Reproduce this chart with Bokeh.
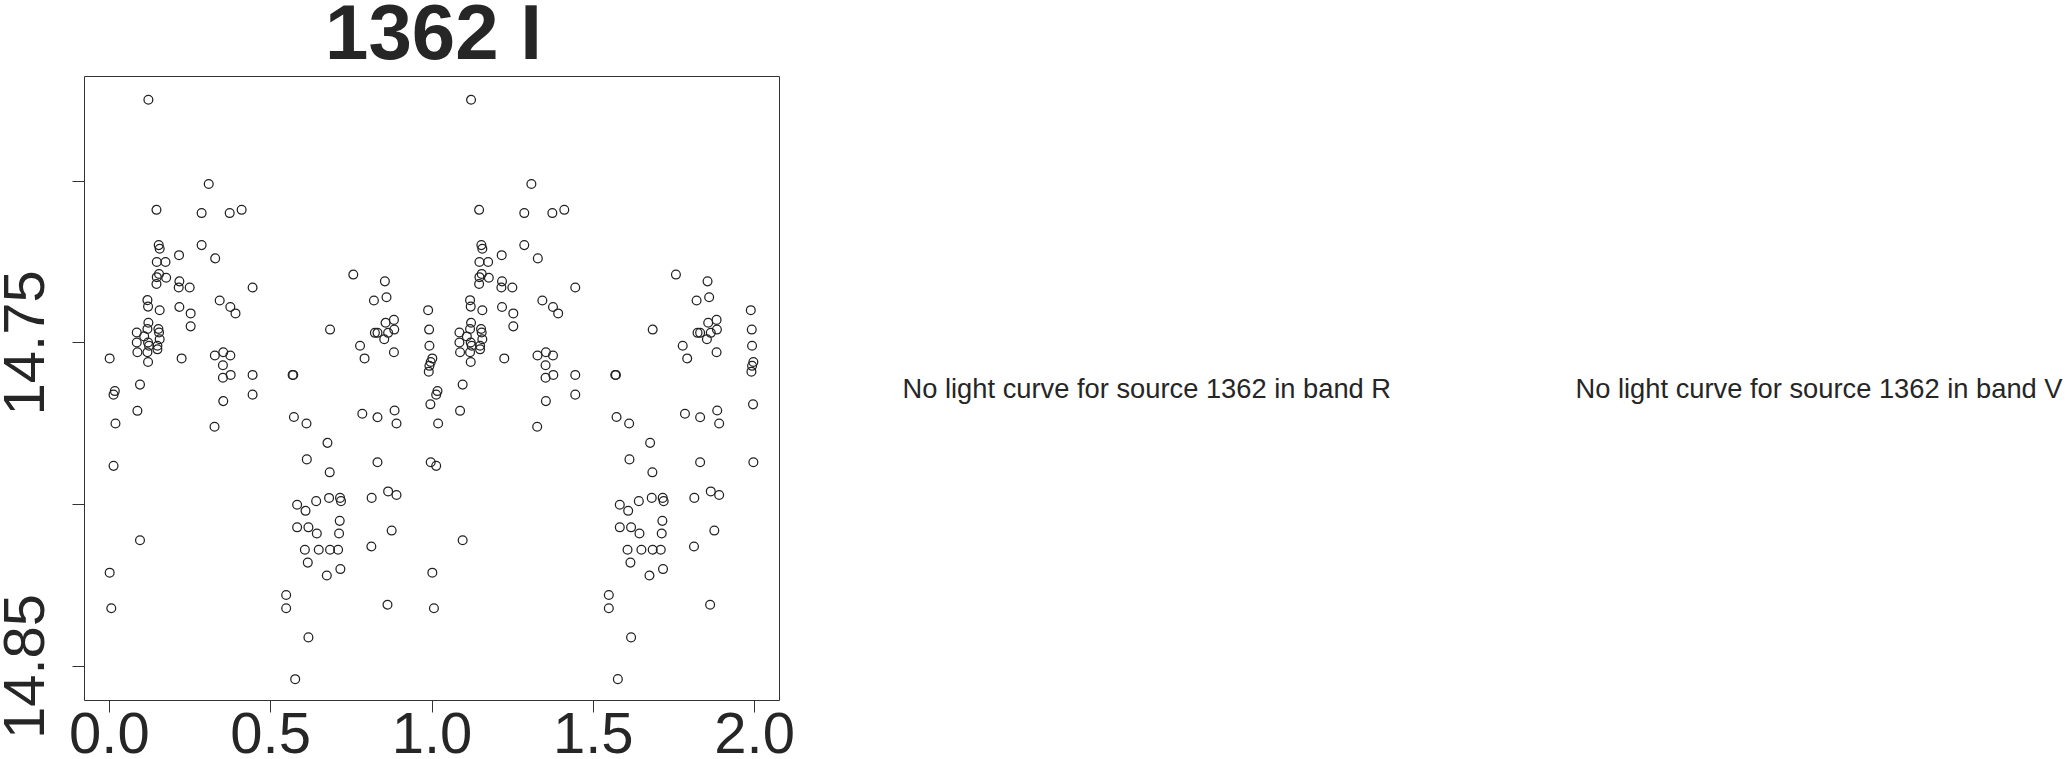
from bokeh.plotting import figure
from bokeh.models import Range1d, FixedTicker, PrintfTickFormatter, Label, LinearAxis
from bokeh.embed import file_html
from bokeh.resources import INLINE
from bokeh.core.properties import value

# ---- data (one cycle of phase-folded I-band light curve; plotted twice) ----
phase = [
    0.121, 0.308, 0.146, 0.286, 0.373, 0.410, 0.153, 0.156, 0.216, 0.286,
    0.328, 0.147, 0.174, 0.154, 0.147, 0.176, 0.146, 0.217, 0.215, 0.249,
    0.444, 0.118, 0.120, 0.156, 0.217, 0.252, 0.342, 0.375, 0.391, 0.252,
    0.121, 0.118, 0.152, 0.085, 0.108, 0.154, 0.156, 0.085, 0.120, 0.123,
    0.149, 0.149, 0.087, 0.118, 0.120,
    0.001, 0.224, 0.327, 0.353, 0.375, 0.352, 0.444, 0.376, 0.352, 0.095,
    0.017, 0.013, 0.353, 0.444, 0.087, 0.019, 0.326, 0.013, 0.095, 0.001, 0.006,
    0.568, 0.570, 0.756, 0.854, 0.820, 0.859, 0.882, 0.856, 0.684, 0.823,
    0.831, 0.864, 0.883, 0.852, 0.777, 0.791, 0.882,
    0.988, 0.991, 0.992, 0.996, 0.992, 0.990, 0.995, 0.996,
    0.572, 0.611, 0.676, 0.612, 0.683, 0.582, 0.608, 0.641, 0.681, 0.715,
    0.718, 0.582, 0.617, 0.643, 0.714, 0.712, 0.606, 0.649, 0.684, 0.709,
    0.615, 0.674, 0.716, 0.548, 0.548, 0.617, 0.576,
    0.784, 0.831, 0.884, 0.890, 0.831, 0.813, 0.864, 0.890, 0.875, 0.812, 0.862,
]
mag = [
    14.6749, 14.7009, 14.7089, 14.7099, 14.7099, 14.7089, 14.7198, 14.7209, 14.7229, 14.7198,
    14.7239, 14.7250, 14.7250, 14.7287, 14.7297, 14.7299, 14.7318, 14.7310, 14.7329, 14.7329,
    14.7329, 14.7368, 14.7388, 14.7399, 14.7389, 14.7409, 14.7369, 14.7389, 14.7409, 14.7449,
    14.7438, 14.7457, 14.7457, 14.7468, 14.7480, 14.7468, 14.7489, 14.7499, 14.7499, 14.7509,
    14.7509, 14.7520, 14.7529, 14.7529, 14.7559,
    14.7548, 14.7548, 14.7539, 14.7529, 14.7539, 14.7569, 14.7599, 14.7599, 14.7608, 14.7629,
    14.7649, 14.7660, 14.7680, 14.7660, 14.7710, 14.7749, 14.7759, 14.7880, 14.8110, 14.8210, 14.8320,
    14.7599, 14.7599, 14.7289, 14.7310, 14.7369, 14.7359, 14.7429, 14.7438, 14.7459, 14.7469,
    14.7469, 14.7469, 14.7459, 14.7489, 14.7509, 14.7548, 14.7529,
    14.7399, 14.7459, 14.7509, 14.7559, 14.7571, 14.7589, 14.7690, 14.7869,
    14.7729, 14.7749, 14.7809, 14.7860, 14.7900, 14.8000, 14.8019, 14.7989, 14.7979, 14.7979,
    14.7989, 14.8070, 14.8070, 14.8089, 14.8050, 14.8089, 14.8139, 14.8139, 14.8139, 14.8139,
    14.8179, 14.8219, 14.8199, 14.8279, 14.8320, 14.8410, 14.8539,
    14.7719, 14.7730, 14.7709, 14.7749, 14.7869, 14.7979, 14.7959, 14.7970, 14.8080, 14.8129, 14.8309,
]
x_ticks = [0.0, 0.5, 1.0, 1.5, 2.0]
y_ticks = [14.70, 14.75, 14.80, 14.85]
y_tick_labels = ["", "14.75", "", "14.85"]
title_text = "1362 I"
messages = ["No light curve for source 1362 in band R",
            "No light curve for source 1362 in band V"]

# two cycles
phase_all = phase + [p + 1.0 for p in phase]
mag_all = mag + mag

# ---- layout (pixels) ----
W, H = 2065, 759
BOX_L, BOX_R, BOX_T, BOX_B = 84, 779, 76, 700
x_start, x_end = -0.077, 2.077          # plotted box limits (data)
y_top, y_bottom = 14.6677, 14.8605      # magnitude axis inverted
kx = (x_end - x_start) / (BOX_R - BOX_L)
ky = (y_bottom - y_top) / (BOX_B - BOX_T)


def px_x(px):
    return x_start + (px - BOX_L) * kx


def px_y(py):
    return y_top + (py - BOX_T) * ky


INK = "#262626"
LINE = "#333333"
FONT = "Liberation Sans"

p = figure(width=W, height=H,
           x_range=Range1d(px_x(0), px_x(W)), y_range=Range1d(px_y(H), px_y(0)),
           output_backend="svg", toolbar_location=None, min_border=0,
           background_fill_color="white", border_fill_color="white",
           outline_line_color=None)
p.grid.visible = False

p.scatter(phase_all, mag_all, marker="circle", size=8.8,
          fill_color=None, line_color="#222222", line_width=1.25)


def style_axis(ax):
    ax.axis_line_color = LINE
    ax.axis_line_width = 1
    ax.major_tick_line_color = LINE
    ax.major_tick_line_width = 1
    ax.major_tick_out = 12
    ax.major_tick_in = 0
    ax.minor_tick_out = 0
    ax.minor_tick_in = 0
    ax.major_label_text_font = FONT
    ax.major_label_text_font_size = "58px"
    ax.major_label_text_color = INK


xa = p.xaxis[0]
style_axis(xa)
xa.ticker = FixedTicker(ticks=x_ticks)
xa.formatter = PrintfTickFormatter(format="%.1f")
xa.fixed_location = y_bottom
xa.bounds = (x_start, x_end)
xa.major_label_standoff = 0

ya = p.yaxis[0]
style_axis(ya)
ya.ticker = FixedTicker(ticks=y_ticks)
ya.major_label_overrides = dict(zip(y_ticks, y_tick_labels))
ya.fixed_location = x_start
ya.bounds = (y_top, y_bottom)
ya.major_label_orientation = "vertical"
ya.major_label_standoff = 28

# top and right edges of the box
top_ax = LinearAxis(fixed_location=y_top, bounds=(x_start, x_end),
                    ticker=FixedTicker(ticks=[]))
style_axis(top_ax)
top_ax.major_tick_out = 0
p.add_layout(top_ax, "above")
right_ax = LinearAxis(fixed_location=x_end, bounds=(y_top, y_bottom),
                      ticker=FixedTicker(ticks=[]))
style_axis(right_ax)
right_ax.major_tick_out = 0
p.add_layout(right_ax, "right")

p.add_layout(Label(x=px_x(433), y=px_y(31.5), text=title_text,
                   text_font=FONT, text_font_size="78px", text_font_style="bold",
                   text_align="center", text_baseline="alphabetic",
                   text_color=INK))

p.text(x=[px_x(902), px_x(1575)], y=[px_y(387.5), px_y(387.5)], text=messages,
       text_font=value(FONT), text_font_size="27.3px", text_color=INK,
       text_align="left", text_baseline="alphabetic")

open("out.html", "w").write(file_html(p, INLINE))
